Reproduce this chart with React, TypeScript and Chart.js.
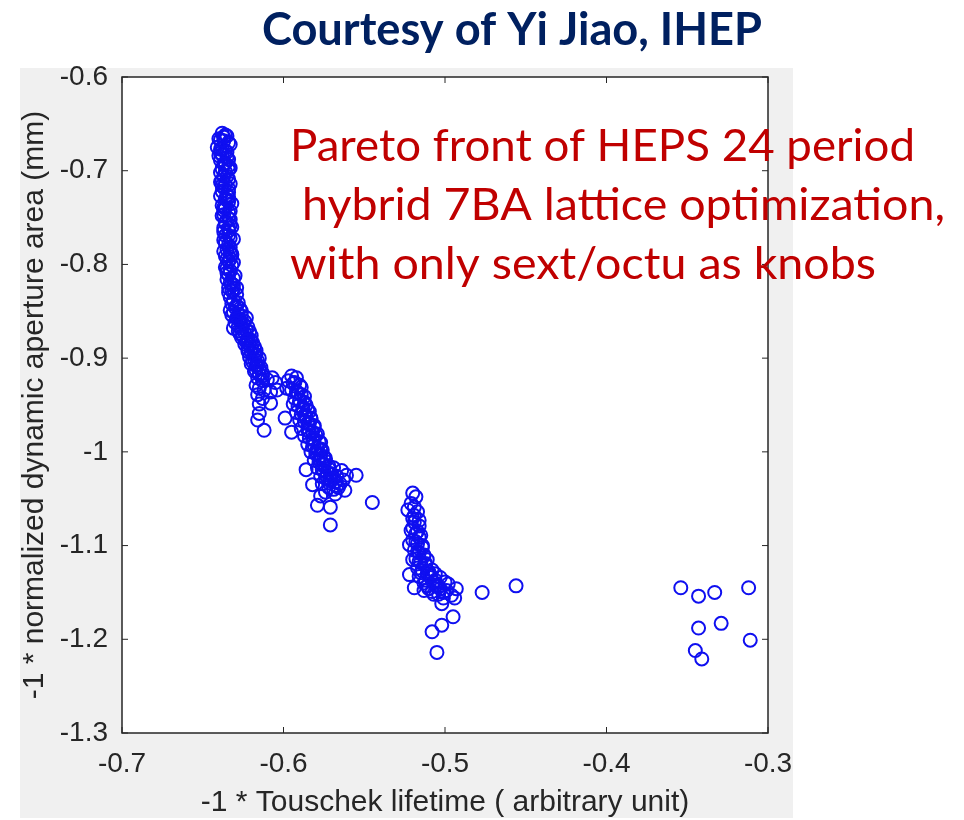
import { useEffect, useRef } from "react";
import { Chart, registerables } from "chart.js";

Chart.register(...registerables);

// Axis ticks
const xTickValues = [-0.7, -0.6, -0.5, -0.4, -0.3];
const xTickLabels = ["-0.7", "-0.6", "-0.5", "-0.4", "-0.3"];
const yTickValues = [-0.6, -0.7, -0.8, -0.9, -1.0, -1.1, -1.2, -1.3];
const yTickLabels = ["-0.6", "-0.7", "-0.8", "-0.9", "-1", "-1.1", "-1.2", "-1.3"];

// Steep upper branch of the front
const steepLifetime = [
  -0.638, -0.636, -0.640, -0.637, -0.634, -0.641, -0.639, -0.636, -0.638, -0.635,
  -0.639, -0.636, -0.634, -0.638, -0.636, -0.637, -0.634, -0.639, -0.636, -0.634,
  -0.638, -0.635, -0.636, -0.634, -0.638, -0.636, -0.633, -0.637, -0.634, -0.636,
  -0.633, -0.637, -0.634, -0.636, -0.633, -0.636, -0.634, -0.635, -0.633, -0.636,
  -0.633, -0.634, -0.632, -0.635, -0.633, -0.634, -0.631, -0.633, -0.631, -0.634,
  -0.632, -0.629, -0.633, -0.631, -0.628,
  -0.637, -0.639, -0.634, -0.638, -0.634, -0.637, -0.634, -0.637, -0.632, -0.635, -0.631,
  -0.635, -0.639, -0.633, -0.638, -0.635, -0.640, -0.634, -0.637, -0.633, -0.639,
  -0.635, -0.638, -0.633, -0.637, -0.634, -0.639, -0.635, -0.632, -0.637, -0.634,
  -0.638, -0.633, -0.636, -0.632, -0.637, -0.634, -0.631, -0.636, -0.633, -0.637,
  -0.632, -0.635, -0.631, -0.636, -0.633, -0.630, -0.635, -0.632, -0.629, -0.634,
];
const steepAperture = [
  -0.660, -0.662, -0.666, -0.668, -0.670, -0.675, -0.677, -0.679, -0.683, -0.686,
  -0.689, -0.692, -0.695, -0.698, -0.701, -0.706, -0.709, -0.712, -0.715, -0.719,
  -0.722, -0.726, -0.730, -0.733, -0.737, -0.740, -0.743, -0.747, -0.751, -0.755,
  -0.758, -0.761, -0.764, -0.769, -0.772, -0.776, -0.779, -0.784, -0.787, -0.791,
  -0.794, -0.797, -0.801, -0.804, -0.807, -0.811, -0.815, -0.819, -0.822, -0.825,
  -0.828, -0.832, -0.835, -0.838, -0.841,
  -0.664, -0.681, -0.699, -0.716, -0.728, -0.742, -0.761, -0.774, -0.789, -0.809, -0.826,
  -0.663, -0.667, -0.672, -0.676, -0.680, -0.684, -0.688, -0.693, -0.697, -0.702,
  -0.706, -0.710, -0.714, -0.718, -0.723, -0.727, -0.731, -0.735, -0.739, -0.744,
  -0.748, -0.752, -0.756, -0.760, -0.765, -0.769, -0.773, -0.777, -0.782, -0.786,
  -0.790, -0.794, -0.798, -0.803, -0.807, -0.812, -0.816, -0.821, -0.825, -0.830,
];

// Lower part of the first branch
const shoulderLifetime = [
  -0.632, -0.629, -0.627, -0.633, -0.631, -0.628, -0.626, -0.623, -0.629, -0.627,
  -0.625, -0.631, -0.628, -0.626, -0.623, -0.621, -0.627, -0.625, -0.622, -0.620,
  -0.623, -0.621, -0.618, -0.622, -0.620, -0.617, -0.621, -0.618, -0.616, -0.620,
  -0.617, -0.615, -0.618, -0.615, -0.613, -0.616, -0.613, -0.610, -0.607, -0.605,
  -0.617, -0.615, -0.612, -0.608, -0.604, -0.616, -0.613, -0.608, -0.615, -0.615,
  -0.616, -0.612,
  -0.630, -0.626, -0.632, -0.628, -0.624, -0.630, -0.626, -0.622, -0.628, -0.624,
  -0.620, -0.626, -0.622, -0.619, -0.624, -0.620, -0.617, -0.622, -0.618, -0.615,
  -0.619, -0.616, -0.614, -0.617, -0.613,
];
const shoulderAperture = [
  -0.842, -0.844, -0.847, -0.849, -0.851, -0.853, -0.855, -0.857, -0.857, -0.860,
  -0.863, -0.868, -0.866, -0.868, -0.870, -0.872, -0.874, -0.876, -0.879, -0.881,
  -0.883, -0.886, -0.888, -0.890, -0.894, -0.896, -0.899, -0.901, -0.903, -0.906,
  -0.908, -0.911, -0.914, -0.917, -0.919, -0.921, -0.924, -0.923, -0.921, -0.926,
  -0.929, -0.932, -0.934, -0.936, -0.934, -0.939, -0.943, -0.948, -0.949, -0.959,
  -0.966, -0.977,
  -0.846, -0.850, -0.854, -0.858, -0.861, -0.862, -0.865, -0.867, -0.871, -0.873,
  -0.876, -0.878, -0.881, -0.884, -0.885, -0.889, -0.892, -0.893, -0.897, -0.900,
  -0.904, -0.907, -0.910, -0.913, -0.916,
];

// Second branch
const middleLifetime = [
  -0.595, -0.592, -0.597, -0.594, -0.590, -0.598, -0.595, -0.592, -0.589, -0.593,
  -0.590, -0.587, -0.594, -0.591, -0.588, -0.585, -0.592, -0.589, -0.586, -0.583,
  -0.590, -0.587, -0.584, -0.581, -0.589, -0.585, -0.582, -0.579, -0.587, -0.584,
  -0.581, -0.577, -0.585, -0.582, -0.579, -0.576, -0.583, -0.580, -0.577, -0.574,
  -0.581, -0.578, -0.575, -0.572, -0.569, -0.579, -0.576, -0.573, -0.570, -0.567,
  -0.564, -0.577, -0.574, -0.571, -0.568, -0.565, -0.582, -0.576, -0.572, -0.569,
  -0.566, -0.563, -0.561, -0.555, -0.586, -0.599, -0.595, -0.579, -0.571, -0.571,
  -0.545, -0.574, -0.568, -0.577, -0.562,
  -0.593, -0.589, -0.591, -0.587, -0.590, -0.586, -0.588, -0.584, -0.587, -0.583,
  -0.585, -0.581, -0.584, -0.580, -0.582, -0.578, -0.581, -0.577, -0.579, -0.575,
  -0.578, -0.574, -0.576, -0.572, -0.575, -0.571, -0.573, -0.569, -0.572, -0.567,
];
const middleAperture = [
  -0.919, -0.921, -0.924, -0.927, -0.929, -0.932, -0.934, -0.936, -0.939, -0.943,
  -0.945, -0.947, -0.949, -0.951, -0.953, -0.955, -0.958, -0.960, -0.962, -0.964,
  -0.966, -0.968, -0.970, -0.972, -0.975, -0.977, -0.979, -0.981, -0.983, -0.985,
  -0.987, -0.990, -0.992, -0.994, -0.996, -0.998, -1.000, -1.002, -1.004, -1.007,
  -1.009, -1.011, -1.013, -1.015, -1.017, -1.017, -1.019, -1.022, -1.024, -1.026,
  -1.020, -1.026, -1.028, -1.030, -1.032, -1.034, -1.035, -1.034, -1.038, -1.040,
  -1.038, -1.030, -1.025, -1.025, -1.019, -0.964, -0.979, -1.057, -1.059, -1.078,
  -1.054, -1.043, -1.045, -1.047, -1.041,
  -0.926, -0.931, -0.937, -0.941, -0.946, -0.950, -0.955, -0.957, -0.961, -0.965,
  -0.969, -0.974, -0.978, -0.982, -0.986, -0.989, -0.993, -0.997, -1.001, -1.005,
  -1.008, -1.010, -1.014, -1.018, -1.021, -1.023, -1.027, -1.029, -1.033, -1.036,
];

// Third branch
const lowerLifetime = [
  -0.520, -0.518, -0.521, -0.519, -0.523, -0.517, -0.520, -0.519, -0.516, -0.521,
  -0.518, -0.516, -0.520, -0.517, -0.514, -0.519, -0.516, -0.513, -0.518, -0.515,
  -0.512, -0.517, -0.514, -0.511, -0.509, -0.516, -0.512, -0.507, -0.505, -0.511,
  -0.519, -0.503, -0.499, -0.508, -0.493, -0.504, -0.496, -0.501, -0.494, -0.502,
  -0.498, -0.522, -0.520, -0.522, -0.513, -0.506, -0.511, -0.508, -0.503, -0.500,
  -0.477, -0.456, -0.508, -0.502, -0.495, -0.505,
  -0.519, -0.516, -0.520, -0.517, -0.515, -0.518, -0.514, -0.517, -0.513, -0.516,
  -0.512, -0.515, -0.510, -0.513, -0.509, -0.506, -0.510, -0.504, -0.507, -0.501,
];
const lowerAperture = [
  -1.044, -1.048, -1.055, -1.059, -1.062, -1.064, -1.071, -1.075, -1.079, -1.084,
  -1.087, -1.091, -1.094, -1.098, -1.102, -1.105, -1.108, -1.111, -1.114, -1.118,
  -1.121, -1.124, -1.127, -1.130, -1.134, -1.133, -1.137, -1.139, -1.142, -1.143,
  -1.145, -1.146, -1.148, -1.149, -1.146, -1.152, -1.153, -1.156, -1.156, -1.162,
  -1.141, -1.131, -1.115, -1.099, -1.148, -1.137, -1.115, -1.126, -1.134, -1.139,
  -1.150, -1.143, -1.192, -1.185, -1.176, -1.214,
  -1.068, -1.073, -1.081, -1.085, -1.089, -1.096, -1.100, -1.106, -1.110, -1.117,
  -1.119, -1.129, -1.128, -1.140, -1.132, -1.130, -1.146, -1.144, -1.152, -1.150,
];

// Isolated solutions at long lifetime
const outlierLifetime = [-0.354, -0.343, -0.333, -0.312, -0.343, -0.329, -0.311, -0.345, -0.341];
const outlierAperture = [-1.145, -1.154, -1.150, -1.145, -1.188, -1.183, -1.201, -1.212, -1.221];

const zip = (xs: number[], ys: number[]) => xs.map((x, i) => ({ x, y: ys[i] }));

const frontPoints = [
  ...zip(steepLifetime, steepAperture),
  ...zip(shoulderLifetime, shoulderAperture),
  ...zip(middleLifetime, middleAperture),
  ...zip(lowerLifetime, lowerAperture),
  ...zip(outlierLifetime, outlierAperture),
];

const titleText = "Courtesy of Yi Jiao, IHEP";
const noteLines = [
  "Pareto front of HEPS 24 period",
  "hybrid 7BA lattice optimization,",
  "with only sext/octu as knobs",
];

const AXIS_INK = "#262626";
const TICK_FONT = { family: "'Liberation Sans', Arial, sans-serif", size: 28, lineHeight: 1 };
const TITLE_FONT = { family: "'Liberation Sans', Arial, sans-serif", size: 30, lineHeight: 1 };

function drawFitted(
  ctx: CanvasRenderingContext2D,
  text: string,
  x: number,
  baseline: number,
  width: number,
  font: string,
  color: string
) {
  ctx.save();
  ctx.font = font;
  ctx.fillStyle = color;
  ctx.textAlign = "left";
  ctx.textBaseline = "alphabetic";
  const w = ctx.measureText(text).width;
  ctx.translate(x, baseline);
  ctx.scale(width / w, 1);
  ctx.fillText(text, 0, 0);
  ctx.restore();
}

const figurePlugin = {
  id: "figureDecor",
  beforeDraw(chart: any) {
    const { ctx, chartArea } = chart;
    ctx.save();
    ctx.fillStyle = "#ffffff";
    ctx.fillRect(0, 0, chart.width, chart.height);
    ctx.fillStyle = "#f0f0f0";
    ctx.fillRect(20, 68, 773, 750);
    ctx.fillStyle = "#ffffff";
    ctx.fillRect(chartArea.left, chartArea.top, chartArea.right - chartArea.left, chartArea.bottom - chartArea.top);
    ctx.restore();
  },
  afterDatasetsDraw(chart: any) {
    const { ctx, chartArea, scales } = chart;
    const { left, right, top, bottom } = chartArea;
    ctx.save();
    ctx.strokeStyle = AXIS_INK;
    ctx.lineWidth = 1.5;
    ctx.strokeRect(left, top, right - left, bottom - top);
    ctx.lineWidth = 1;
    const len = 6;
    ctx.beginPath();
    xTickValues.forEach((v) => {
      const px = scales.x.getPixelForValue(v);
      ctx.moveTo(px, bottom);
      ctx.lineTo(px, bottom - len);
      ctx.moveTo(px, top);
      ctx.lineTo(px, top + len);
    });
    yTickValues.forEach((v) => {
      const py = scales.y.getPixelForValue(v);
      ctx.moveTo(left, py);
      ctx.lineTo(left + len, py);
      ctx.moveTo(right, py);
      ctx.lineTo(right - len, py);
    });
    ctx.stroke();
    ctx.restore();
  },
  afterDraw(chart: any) {
    const ctx = chart.ctx as CanvasRenderingContext2D;
    drawFitted(ctx, titleText, 262, 45, 500, "bold 46px Lato, 'Liberation Sans Narrow', sans-serif", "#002060");
    const redFont = "44px Lato, 'Liberation Sans', sans-serif";
    drawFitted(ctx, noteLines[0], 290, 161, 625, redFont, "#c00000");
    drawFitted(ctx, noteLines[1], 302, 220, 643, redFont, "#c00000");
    drawFitted(ctx, noteLines[2], 290, 279, 586, redFont, "#c00000");
  },
};

export default function App() {
  const canvasRef = useRef<HTMLCanvasElement | null>(null);

  useEffect(() => {
    const canvas = canvasRef.current;
    if (!canvas) return;
    const chart = new Chart(canvas, {
      type: "scatter",
      data: {
        datasets: [
          {
            data: frontPoints,
            showLine: false,
            pointStyle: "circle",
            pointRadius: 6.5,
            pointHoverRadius: 6.5,
            pointBorderWidth: 2,
            borderColor: "rgb(15, 15, 240)",
            backgroundColor: "rgba(0,0,0,0)",
          },
        ],
      },
      options: {
        responsive: false,
        animation: false,
        devicePixelRatio: 1,
        layout: { padding: { left: 0, top: 77, right: 196, bottom: 0 } },
        plugins: {
          legend: { display: false },
          tooltip: { enabled: false },
        },
        scales: {
          x: {
            type: "linear",
            min: -0.7,
            max: -0.3,
            afterBuildTicks: (scale: any) => {
              scale.ticks = xTickValues.map((value) => ({ value }));
            },
            afterFit: (scale: any) => {
              scale.height = 87;
            },
            grid: { display: false, drawTicks: false, tickLength: 0 },
            border: { display: false },
            ticks: {
              maxRotation: 0,
              autoSkip: false,
              padding: 17,
              color: AXIS_INK,
              font: TICK_FONT,
              callback: (v: any) => {
                const i = xTickValues.findIndex((t) => Math.abs(t - Number(v)) < 1e-6);
                return i >= 0 ? xTickLabels[i] : "";
              },
            },
            title: {
              display: true,
              text: "-1 * Touschek lifetime ( arbitrary unit)",
              color: AXIS_INK,
              font: TITLE_FONT,
              padding: { top: 0, bottom: 2 },
            },
          },
          y: {
            type: "linear",
            min: -1.3,
            max: -0.6,
            afterBuildTicks: (scale: any) => {
              scale.ticks = yTickValues.map((value) => ({ value }));
            },
            afterFit: (scale: any) => {
              scale.width = 122;
            },
            grid: { display: false, drawTicks: false, tickLength: 0 },
            border: { display: false },
            ticks: {
              autoSkip: false,
              padding: 14,
              color: AXIS_INK,
              font: TICK_FONT,
              callback: (v: any) => {
                const i = yTickValues.findIndex((t) => Math.abs(t - Number(v)) < 1e-6);
                return i >= 0 ? yTickLabels[i] : "";
              },
            },
            title: {
              display: true,
              text: "-1 * normalized dynamic aperture area (mm)",
              color: AXIS_INK,
              font: TITLE_FONT,
              padding: { top: 20, bottom: 0 },
            },
          },
        },
      },
      plugins: [figurePlugin],
    });
    return () => chart.destroy();
  }, []);

  return (
    <canvas
      ref={canvasRef}
      width={964}
      height={820}
      style={{ position: "absolute", left: 0, top: 0, width: 964, height: 820, display: "block" }}
    />
  );
}
